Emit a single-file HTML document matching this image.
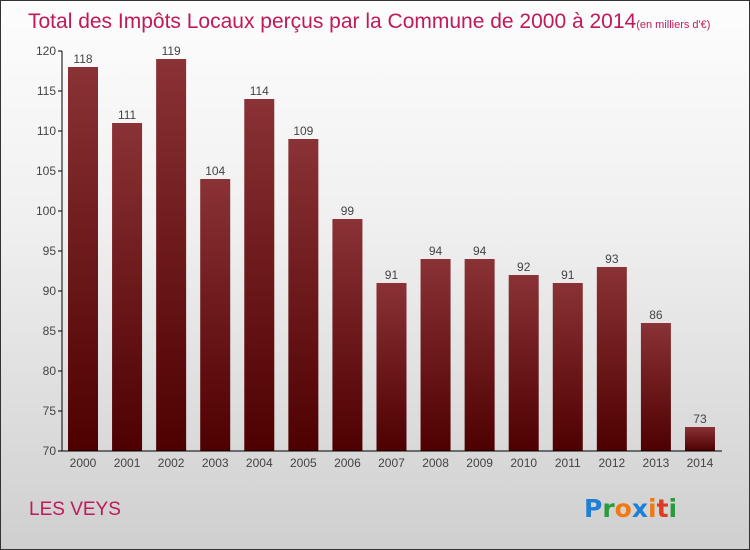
<!DOCTYPE html>
<html><head><meta charset="utf-8"><style>
body{margin:0;}
#wrap{position:relative;width:748px;height:548px;border:1px solid #333;background:linear-gradient(#fdfdfd,#f0f0f0 40%,#cfcfcf);font-family:"Liberation Sans",sans-serif;overflow:hidden;}
svg{position:absolute;left:0;top:0;}
</style></head><body>
<div id="wrap">
<svg id="c" width="750" height="550">
<defs><linearGradient id="g" x1="0" y1="0" x2="0" y2="1"><stop offset="0" stop-color="#8a3235"/><stop offset="1" stop-color="#4e0000"/></linearGradient></defs>
<text x="27" y="27" font-size="21" fill="#c0195a">Total des Impôts Locaux perçus par la Commune de 2000 à 2014<tspan font-size="11">(en milliers d'€)</tspan></text>
<text x="28" y="514" font-size="19" fill="#c0195a">LES VEYS</text>
<g font-size="25" font-weight="bold" font-family="'DejaVu Sans',sans-serif">
<text x="583" y="516"><tspan fill="#1e7fd6">P</tspan><tspan fill="#2a9a3a">r</tspan><tspan fill="#f07a10">o</tspan><tspan fill="#1e7fd6">x</tspan><tspan fill="#f07a10">i</tspan><tspan fill="#e03a20">t</tspan><tspan fill="#2a9a3a">i</tspan></text></g>
</svg></div>
<script>
const categories=["2000","2001","2002","2003","2004","2005","2006","2007","2008","2009","2010","2011","2012","2013","2014"];
const values=[118,111,119,104,114,109,99,91,94,94,92,91,93,86,73];
const yTicks=[70,75,80,85,90,95,100,105,110,115,120];
const svg=document.getElementById('c');const NS="http://www.w3.org/2000/svg";
const y=v=>450-(v-70)*8;const x=i=>82+i*44.07;
function mk(t,a){const e=document.createElementNS(NS,t);for(const k in a)e.setAttribute(k,a[k]);svg.appendChild(e);return e;}
yTicks.forEach(t=>{
const l=mk('line',{x1:57,x2:61,y1:y(t),y2:y(t),stroke:'#000'});


const tx=mk('text',{x:55,y:y(t)+4,'font-size':12,fill:'#444','text-anchor':'end'});tx.textContent=t;


});
categories.forEach((c,i)=>{
const b=mk('rect',{x:x(i)-15,y:y(values[i]),width:30,height:450-y(values[i]),fill:'url(#g)'});


const v=mk('text',{x:x(i),y:y(values[i])-4,'font-size':12,fill:'#444','text-anchor':'middle'});v.textContent=values[i];


const xl=mk('text',{x:x(i),y:466,'font-size':12,fill:'#444','text-anchor':'middle'});xl.textContent=c;


});
const ya=mk('line',{x1:61,x2:61,y1:50,y2:450,stroke:'#000'});


const xa=mk('line',{x1:61,x2:721,y1:450,y2:450,stroke:'#000'});


</script>
</body></html>
